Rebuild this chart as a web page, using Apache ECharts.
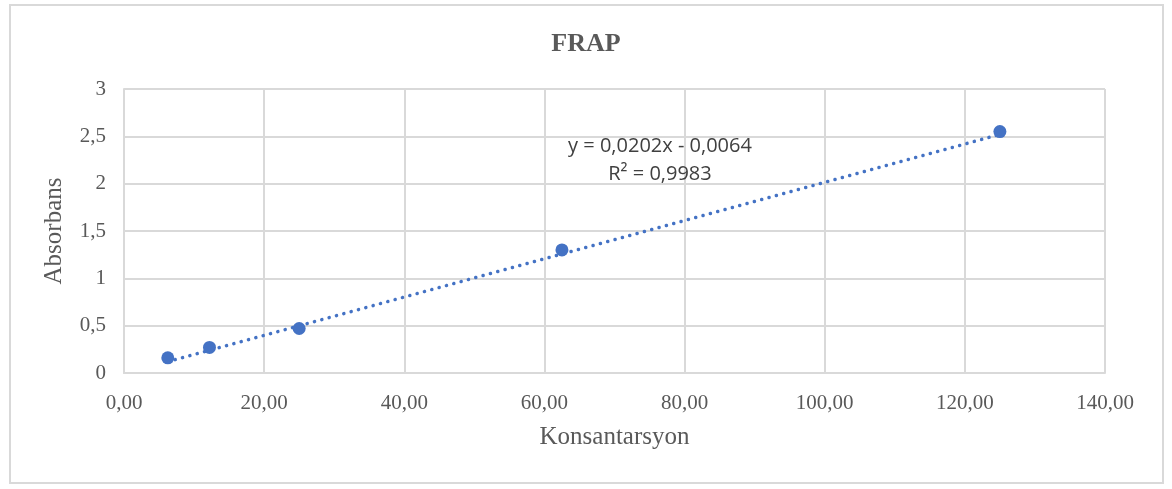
<!DOCTYPE html>
<html>
<head>
<meta charset="utf-8">
<script src="https://cdn.jsdelivr.net/npm/echarts@6/dist/echarts.min.js"></script>
<style>
  html, body { margin: 0; padding: 0; background: #fff; }
  #frame { position: absolute; left: 9px; top: 4px; width: 1155px; height: 480px; border: 2px solid #d9d9d9; box-sizing: border-box; }
  #chart { width: 1172px; height: 489px; }
</style>
</head>
<body>
<div id="frame"></div>
<div id="chart"></div>
<script>
// measured points (konsantrasyon, absorbans)
const konsantrasyon = [6.25, 12.2, 25, 62.5, 125];
const absorbans = [0.16, 0.27, 0.47, 1.30, 2.55];
// trendline ends
const trendX = [6.25, 125];
const trendY = [0.12, 2.52];
const equation = ['y = 0,0202x - 0,0064', 'R² = 0,9983'];

const blue = '#4472c4';
const grid = '#d9d9d9';
const muted = '#595959';

const fmt = (v, d) => v.toFixed(d).replace('.', ',');

const chart = echarts.init(document.getElementById('chart'));

chart.setOption({
  animation: false,
  title: {
    text: 'FRAP',
    left: 'center',
    top: 26,
    textStyle: { fontFamily: 'Liberation Serif', fontSize: 26, fontWeight: 'bold', color: muted },
  },
  grid: { left: 124, right: 67, top: 89, bottom: 116 },
  xAxis: {
    type: 'value',
    min: 0,
    max: 140,
    interval: 20,
    name: 'Konsantarsyon',
    nameLocation: 'middle',
    nameGap: 52,
    nameTextStyle: { fontFamily: 'Liberation Serif', fontSize: 25, color: muted },
    axisLine: { show: true, lineStyle: { color: grid, width: 2 } },
    axisTick: { show: false },
    splitLine: { lineStyle: { color: grid, width: 2 } },
    axisLabel: { color: muted, fontFamily: 'Liberation Serif', fontSize: 21, margin: 20, formatter: (v) => fmt(v, 2) },
  },
  yAxis: {
    type: 'value',
    min: 0,
    max: 3,
    interval: 0.5,
    name: 'Absorbans',
    nameLocation: 'middle',
    nameGap: 57,
    nameTextStyle: { fontFamily: 'Liberation Serif', fontSize: 25, color: muted },
    axisLine: { show: true, lineStyle: { color: grid, width: 2 } },
    axisTick: { show: false },
    splitLine: { lineStyle: { color: grid, width: 2 } },
    axisLabel: { color: muted, fontFamily: 'Liberation Serif', fontSize: 21, margin: 18, formatter: (v) => (v === Math.round(v) ? String(v) : fmt(v, 1)) },
  },
  graphic: equation.map((line, i) => ({
    type: 'text',
    x: 660,
    y: 146 + i * 28,
    z: 10,
    style: {
      text: line,
      align: 'center',
      verticalAlign: 'middle',
      fontFamily: 'Open Sans',
      fontSize: 20,
      fill: '#404040',
    },
  })),
  series: [
    {
      name: 'Trend',
      type: 'line',
      data: trendX.map((x, i) => [x, trendY[i]]),
      symbol: 'none',
      lineStyle: { color: blue, width: 3.5, type: [0.1, 7.5], cap: 'round' },
      z: 2,
    },
    {
      name: 'FRAP',
      type: 'scatter',
      data: konsantrasyon.map((x, i) => [x, absorbans[i]]),
      symbolSize: 13,
      itemStyle: { color: blue, opacity: 1 },
      z: 3,
    },
  ],
});
</script>
</body>
</html>
